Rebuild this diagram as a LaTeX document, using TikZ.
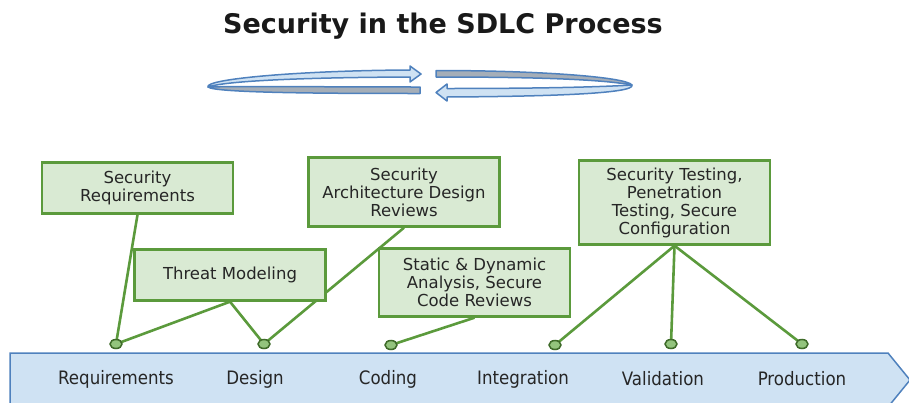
\documentclass[tikz,border=0pt]{standalone}
\usepackage{fontspec}
\setmainfont{DejaVu Sans}
\newfontfamily\condfont{DejaVu Sans Condensed}
\usetikzlibrary{shapes.geometric, backgrounds}
\definecolor{boxfill}{HTML}{D9EAD3}
\definecolor{boxline}{HTML}{5B9A3C}
\definecolor{dotfill}{HTML}{93C47D}
\definecolor{dotline}{HTML}{3F6B2A}
\definecolor{bandfill}{HTML}{CFE2F3}
\definecolor{bandline}{HTML}{4F81BD}
\definecolor{backband}{HTML}{A5AEB8}

\begin{document}
\begin{tikzpicture}[x=1pt, y=-1pt]
	\tikzset{secbox/.style={draw=boxline, fill=boxfill, line width=2.4pt, align=center, minimum width=191pt, inner sep=2pt, font=\fontsize{16.5}{18}\selectfont, text=black!85}}
	\tikzset{link/.style={draw=boxline, line width=2.6pt}}
	\tikzset{dot/.style={draw=dotline, fill=dotfill, ellipse, minimum width=12pt, minimum height=9pt, inner sep=0pt, line width=1.5pt}}
	\tikzset{phase/.style={font=\condfont\fontsize{18.5}{20}\selectfont, text=black!85}}
	\tikzset{ribbon/.style={draw=bandline, line width=1.5pt, line join=round}}

	\useasboundingbox (0,0) rectangle (909,402);
	\clip (0,0) rectangle (909,402);

	\node[font=\bfseries\fontsize{27}{30}\selectfont, text=black!90] (title) at (443,26) {Security in the SDLC Process};

	% cycle arrows
	\fill[ribbon, fill=backband] (420,87) -- (420,93.5) .. controls (330,93.5) and (215,93) .. (208,87) .. controls (240,86) and (330,87) .. cycle;
	\fill[ribbon, fill=bandfill] (208,87) .. controls (204,79) and (300,70.5) .. (410,70) -- (410,66) -- (421,74) -- (410,82) -- (410,77) .. controls (300,77.5) and (225,81) .. (208,87) -- cycle;
	\fill[ribbon, fill=backband] (436,70.5) -- (436,77) .. controls (530,77) and (600,79) .. (632,85) .. controls (626,77) and (540,70.5) .. cycle;
	\fill[ribbon, fill=bandfill] (632,85) .. controls (636,94) and (540,96.5) .. (447,97) -- (447,101) -- (436,92.5) -- (447,84) -- (447,88.5) .. controls (540,88.5) and (600,87) .. (632,85) -- cycle;

	% phases
	\draw[draw=bandline, fill=bandfill, line width=1.5pt] (10,353) -- (888,353) -- (910,380) -- (888,407) -- (10,407) -- cycle;
	\node[phase] (req) at (116,379) {Requirements};
	\node[phase] (des) at (255,379) {Design};
	\node[phase] (cod) at (388,379) {Coding};
	\node[phase] (int) at (523,379) {Integration};
	\node[phase] (val) at (663,379) {Validation};
	\node[phase] (pro) at (802,379) {Production};

	\node[dot] (d1) at (116,344) {};
	\node[dot] (d2) at (264,344) {};
	\node[dot] (d3) at (391,345) {};
	\node[dot] (d4) at (555,345) {};
	\node[dot] (d5) at (671,344) {};
	\node[dot] (d6) at (802,344) {};

	\node[secbox, minimum height=51pt] (sreq) at (137.5,188) {Security\\Requirements};
	\node[secbox, minimum height=51pt] (threat) at (230,275) {Threat Modeling};
	\node[secbox, minimum height=69pt] (arch) at (404,192) {Security\\Architecture Design\\Reviews};
	\node[secbox, minimum height=68pt] (sast) at (474.5,282.5) {Static \& Dynamic\\Analysis, Secure\\Code Reviews};
	\node[secbox, minimum height=84pt] (stest) at (674.5,202.5) {Security Testing,\\Penetration\\Testing, Secure\\Configuration};

	\begin{scope}[on background layer]
		\draw[link] (sreq.south) -- (d1.center);
		\draw[link] (threat.south) -- (d1.center);
		\draw[link] (threat.south) -- (d2.center);
		\draw[link] (arch.south) -- (d2.center);
		\draw[link] (sast.south) -- (d3.center);
		\draw[link] (stest.south) -- (d4.center);
		\draw[link] (stest.south) -- (d5.center);
		\draw[link] (stest.south) -- (d6.center);
	\end{scope}
\end{tikzpicture}
\end{document}
